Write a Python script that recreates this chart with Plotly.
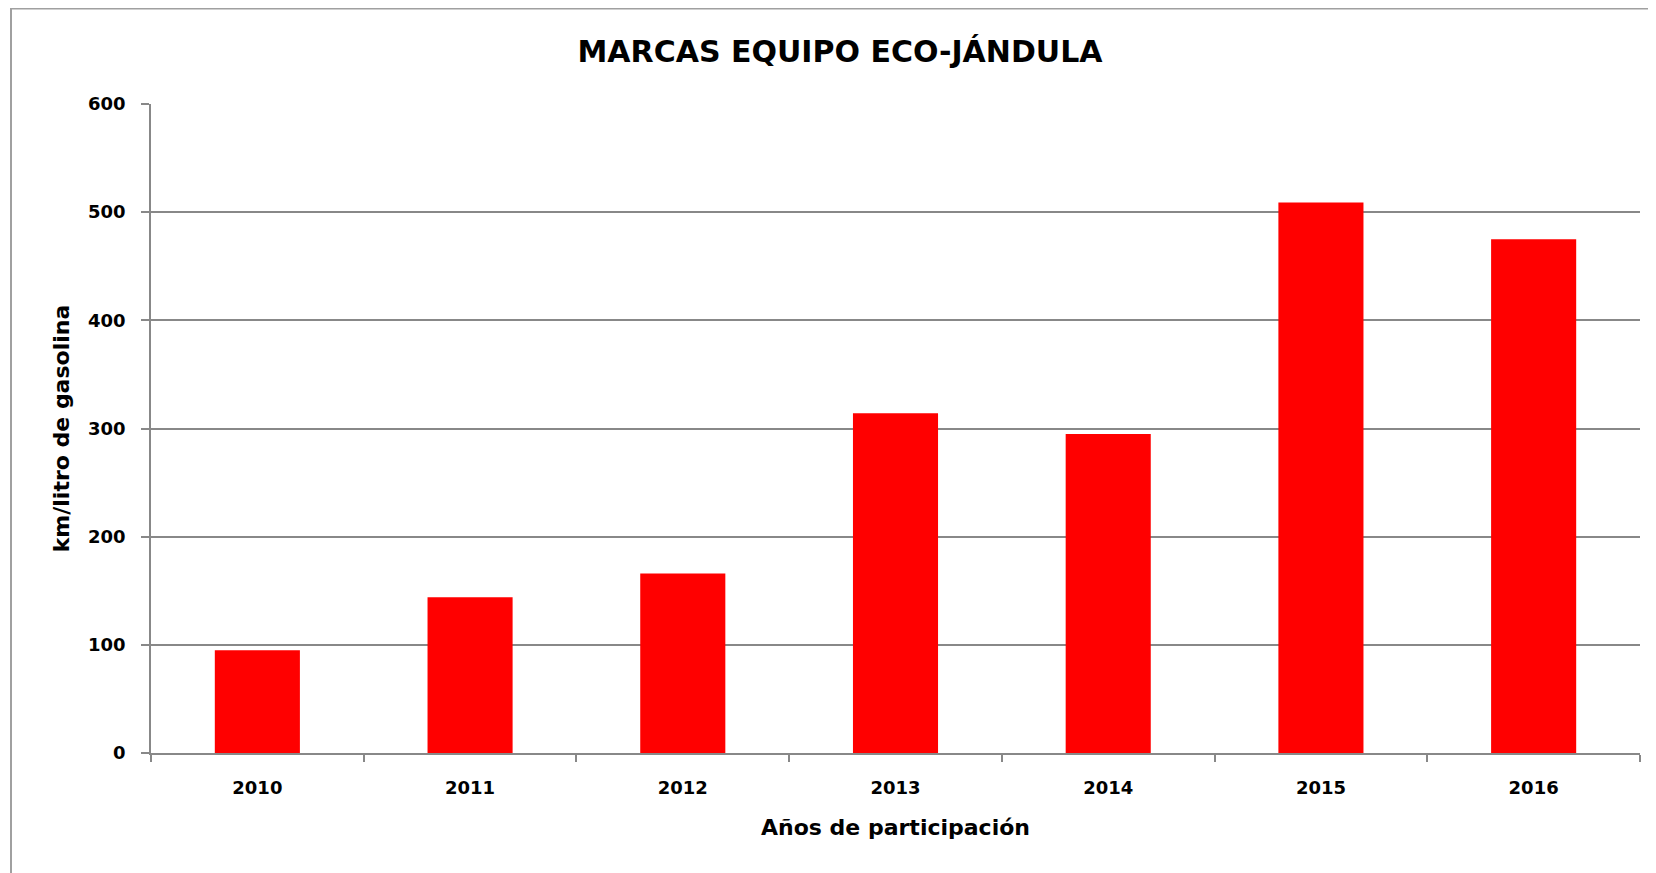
import plotly.graph_objects as go

years = ["2010", "2011", "2012", "2013", "2014", "2015", "2016"]
values = [95, 144, 166, 314, 295, 509, 475]
y_ticks = [0, 100, 200, 300, 400, 500, 600]

FONT = "DejaVu Sans"
# page has an 8px body margin, so the figure is shrunk by that offset
W, H = 1648, 865
L, R, T, B = 143, 16, 96, 120
PW, PH = W - L - R, H - T - B

fig = go.Figure(go.Bar(x=years, y=values, marker=dict(color="#ff0000", line=dict(width=0)), width=0.4))

fig.update_layout(
    width=W, height=H,
    margin=dict(l=L, r=R, t=T, b=B),
    paper_bgcolor="white", plot_bgcolor="white",
    font=dict(family=FONT, color="black"),
    showlegend=False,
    title=dict(text="<b>MARCAS EQUIPO ECO-JÁNDULA</b>", x=832 / W, xanchor="center",
               y=1 - 43 / H, yanchor="middle", font=dict(size=30, family=FONT, color="black")),
    shapes=[dict(type="rect", xref="paper", yref="paper",
                 x0=(3 - L) / PW, x1=(1647 - L) / PW,
                 y0=(PH + T - 880) / PH, y1=(PH + T - 0.5) / PH,
                 line=dict(color="#a0a0a0", width=2), layer="below")],
)

fig.update_xaxes(
    type="category",
    showline=True, linecolor="#888888", linewidth=1.5,
    ticks="outside", tickson="boundaries", ticklen=7, tickcolor="#888888", tickwidth=1.5,
    tickfont=dict(size=18, family=FONT, color="black"),
    ticklabelstandoff=18,
    tickvals=years, ticktext=[f"<b>{y}</b>" for y in years],
    title=dict(text="<b>Años de participación</b>", font=dict(size=22, family=FONT, color="black"), standoff=22),
    showgrid=False,
)
fig.update_yaxes(
    range=[0, 600], tickvals=y_ticks, ticktext=[f"<b>{v}</b>" for v in y_ticks],
    showline=True, linecolor="#888888", linewidth=1.5,
    ticks="outside", ticklen=8, tickcolor="#888888", tickwidth=1.5,
    ticklabelstandoff=12,
    showgrid=True, gridcolor="#888888", gridwidth=1.5,
    zeroline=False,
    tickfont=dict(size=18, family=FONT, color="black"),
    title=dict(text="<b>km/litro de gasolina</b>", font=dict(size=22, family=FONT, color="black"), standoff=12),
)

fig.write_html("out.html")
